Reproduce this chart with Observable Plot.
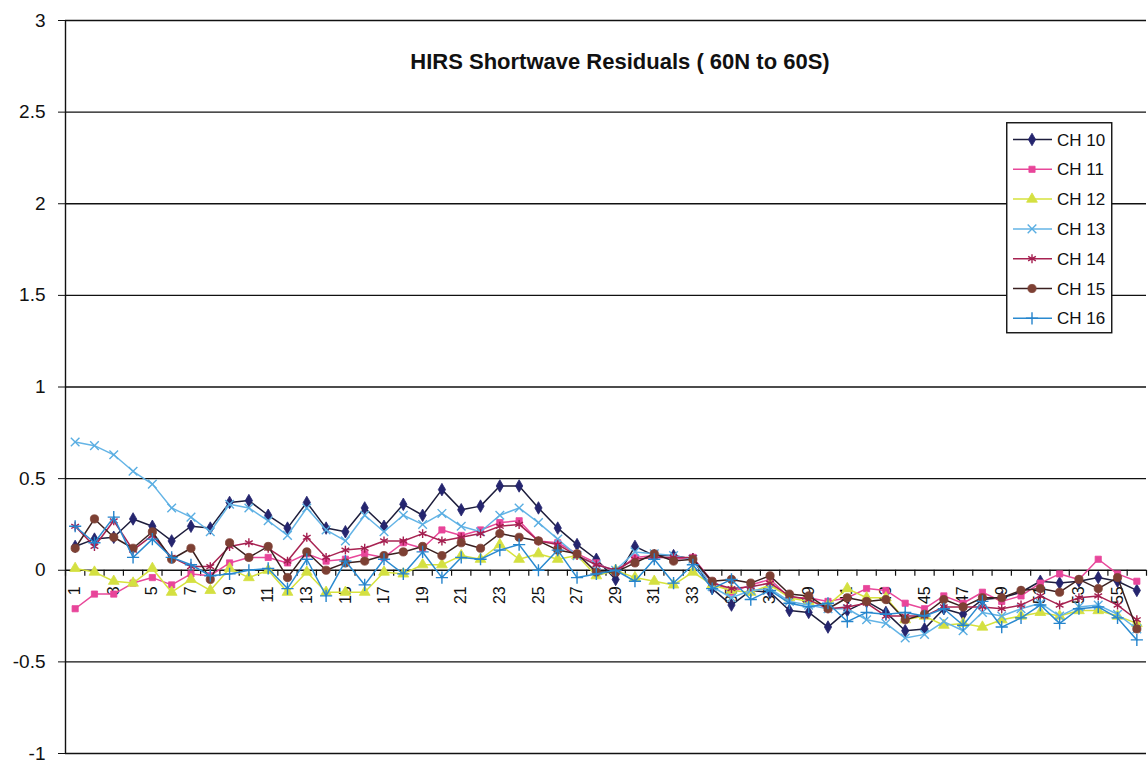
<!DOCTYPE html>
<html><head><meta charset="utf-8">
<script src="https://cdn.jsdelivr.net/npm/d3@7"></script>
<script src="https://cdn.jsdelivr.net/npm/@observablehq/plot@0.6"></script>
<style>
html,body{margin:0;padding:0;background:#fff;}
#wrap{position:relative;width:1148px;height:765px;overflow:hidden;background:#fff;}
</style></head><body><div id="wrap"></div>
<script>
const title = "HIRS Shortwave Residuals ( 60N to 60S)";
const categories = [1,2,3,4,5,6,7,8,9,10,11,12,13,14,15,16,17,18,19,20,21,22,23,24,25,26,27,28,29,30,31,32,33,34,35,36,37,38,39,40,41,42,43,44,45,46,47,48,49,50,51,52,53,54,55,56];
const xTickLabels = [1,3,5,7,9,11,13,15,17,19,21,23,25,27,29,31,33,35,37,39,41,43,45,47,49,51,53,55];
const yTicks = [-1,-0.5,0,0.5,1,1.5,2,2.5,3];
const seriesNames = ["CH 10","CH 11","CH 12","CH 13","CH 14","CH 15","CH 16"];

const ch10 = [0.13,0.17,0.18,0.28,0.24,0.16,0.24,0.23,0.37,0.38, 0.30,0.23,0.37,0.23,0.21,0.34,0.24,0.36,0.30,0.44, 0.33,0.35,0.46,0.46,0.34,0.23,0.14,0.06,-0.05,0.13, 0.08,0.08,0.06,-0.10,-0.19,-0.11,-0.12,-0.22,-0.23,-0.31, -0.22,-0.17,-0.23,-0.33,-0.32,-0.21,-0.24,-0.16,-0.15,-0.12, -0.06,-0.07,-0.06,-0.04,-0.06,-0.11];
const ch11 = [-0.21,-0.13,-0.13,-0.07,-0.04,-0.08,-0.02,-0.03,0.04,0.07, 0.07,0.04,0.09,0.05,0.06,0.09,0.07,0.15,0.12,0.22, 0.19,0.22,0.26,0.27,0.16,0.15,0.09,0.04,-0.01,0.07, 0.08,0.06,0.07,-0.06,-0.12,-0.08,-0.05,-0.15,-0.15,-0.17, -0.15,-0.10,-0.11,-0.18,-0.21,-0.14,-0.18,-0.12,-0.17,-0.14, -0.07,-0.02,-0.05,0.06,-0.02,-0.06];
const ch12 = [0.01,-0.01,-0.06,-0.07,0.01,-0.12,-0.05,-0.11,0.01,-0.04, 0.00,-0.12,-0.01,-0.12,-0.12,-0.12,-0.01,-0.02,0.03,0.03, 0.08,0.06,0.14,0.06,0.09,0.06,0.08,-0.03,0.00,-0.04, -0.06,-0.08,-0.01,-0.08,-0.11,-0.12,-0.08,-0.15,-0.17,-0.19, -0.10,-0.15,-0.15,-0.27,-0.25,-0.30,-0.29,-0.31,-0.27,-0.25, -0.23,-0.25,-0.22,-0.22,-0.25,-0.29];
const ch13 = [0.70,0.68,0.63,0.54,0.47,0.34,0.29,0.21,0.36,0.34, 0.27,0.19,0.34,0.22,0.16,0.30,0.21,0.30,0.25,0.31, 0.24,0.21,0.30,0.34,0.26,0.17,0.08,0.03,0.00,0.10, 0.09,0.08,0.06,-0.09,-0.15,-0.11,-0.10,-0.17,-0.19,-0.21, -0.21,-0.27,-0.29,-0.37,-0.35,-0.28,-0.33,-0.23,-0.25,-0.21, -0.18,-0.25,-0.20,-0.19,-0.24,-0.32];
const ch14 = [0.24,0.13,0.27,0.11,0.19,0.07,0.02,0.02,0.13,0.15, 0.12,0.05,0.18,0.07,0.11,0.12,0.16,0.16,0.20,0.16, 0.18,0.20,0.24,0.25,0.16,0.14,0.08,0.03,0.00,0.06, 0.07,0.07,0.07,-0.07,-0.10,-0.09,-0.07,-0.14,-0.16,-0.21, -0.20,-0.18,-0.25,-0.25,-0.25,-0.20,-0.20,-0.20,-0.21,-0.19, -0.14,-0.19,-0.15,-0.14,-0.19,-0.27];
const ch15 = [0.12,0.28,0.18,0.12,0.21,0.06,0.12,-0.05,0.15,0.07, 0.13,-0.04,0.10,0.00,0.04,0.05,0.08,0.10,0.13,0.08, 0.15,0.12,0.20,0.18,0.16,0.11,0.09,-0.01,-0.01,0.04, 0.09,0.05,0.06,-0.06,-0.05,-0.07,-0.03,-0.13,-0.14,-0.21, -0.15,-0.17,-0.16,-0.27,-0.24,-0.16,-0.20,-0.15,-0.15,-0.11, -0.10,-0.12,-0.05,-0.10,-0.04,-0.32];
const ch16 = [0.24,0.15,0.29,0.07,0.17,0.07,0.03,-0.03,-0.02,0.00, 0.01,-0.10,0.06,-0.14,0.05,-0.08,0.06,-0.02,0.10,-0.04, 0.07,0.06,0.11,0.14,0.00,0.11,-0.04,-0.02,0.00,-0.06, 0.06,-0.07,0.03,-0.10,-0.05,-0.16,-0.11,-0.18,-0.20,-0.18, -0.28,-0.23,-0.24,-0.23,-0.25,-0.21,-0.30,-0.17,-0.31,-0.26, -0.19,-0.29,-0.21,-0.20,-0.26,-0.38];
const seriesValues = [ch10, ch11, ch12, ch13, ch14, ch15, ch16];

const styles = [
  {line:"#1d1d3c", mark:"#25256e", symbol:"diamond", filled:true, r:3.8},
  {line:"#e8489a", mark:"#e8459a", symbol:"square", filled:true, r:3.5},
  {line:"#d6e23c", mark:"#d4e041", symbol:"triangle", filled:true, r:4.0},
  {line:"#64b4e6", mark:"#5aaee2", symbol:"times", filled:false, r:4.0},
  {line:"#a82352", mark:"#a41f50", symbol:"asterisk", filled:false, r:4.2},
  {line:"#3a2020", mark:"#7d4034", symbol:"circle", filled:true, r:4.1},
  {line:"#2a8ad0", mark:"#2584cc", symbol:"plus", filled:false, r:4.0}
];
const symbolMap = {diamond:d3.symbolDiamond, square:d3.symbolSquare, triangle:d3.symbolTriangle, times:d3.symbolTimes, asterisk:d3.symbolAsterisk, circle:d3.symbolCircle, plus:d3.symbolPlus};

const FONT = "Arial, 'Liberation Sans', sans-serif";
const boundaries = categories.map(c => c - 0.5).concat([categories[categories.length-1] + 0.5]);

const marks = [
  Plot.ruleY(yTicks, {stroke:"#111", strokeWidth:1.4}),
  Plot.ruleX([boundaries[0]], {stroke:"#111", strokeWidth:1.4}),
  Plot.ruleX(boundaries, {x: d => d, y1: 0, y2: 0, insetBottom: -6, stroke:"#111", strokeWidth:1.2}),
  Plot.axisY({ticks: yTicks, tickSize: 7, tickPadding: 13, fontSize: 19, tickFormat: d => String(d), stroke:"#111", label: null}),
  Plot.text(xTickLabels, {x: d => d, y: 0, text: d => String(d), rotate: -90, textAnchor: "end", dy: 16, fontSize: 16, fill:"#111"}),
  Plot.text([title], {frameAnchor: "top", text: d => d, dy: 41, dx: 14, lineAnchor: "middle", fontSize: 22, fontWeight: "bold", fill:"#111"})
];
seriesNames.forEach((name, i) => {
  const st = styles[i];
  const rows = seriesValues[i].map((v, j) => ({x: categories[j], y: v}));
  marks.push(Plot.line(rows, {x: "x", y: "y", stroke: st.line, strokeWidth: 1.5}));
  marks.push(Plot.dot(rows, {x: "x", y: "y", symbol: st.symbol, r: st.r,
    fill: st.filled ? st.mark : "none", stroke: st.mark, strokeWidth: st.filled ? 0.8 : 1.4}));
});

const chart = Plot.plot({
  width: 1148, height: 765,
  marginLeft: 65, marginRight: 2, marginTop: 20, marginBottom: 12,
  style: {fontFamily: FONT, background: "white", color: "#111"},
  x: {domain: [0.5, 56.5], axis: null},
  y: {domain: [-1, 3], axis: null},
  marks
});
const wrap = document.getElementById("wrap");
wrap.appendChild(chart);

// legend
const lg = d3.select(wrap).append("svg")
  .attr("width", 107).attr("height", 212)
  .style("position", "absolute").style("left", "1006px").style("top", "122px")
  .style("font-family", FONT);
lg.append("rect").attr("x", 0.75).attr("y", 0.75).attr("width", 105).attr("height", 210)
  .attr("fill", "white").attr("stroke", "#111").attr("stroke-width", 1.4);
seriesNames.forEach((name, i) => {
  const st = styles[i];
  const cy = 17.5 + i * 29.8;
  const g = lg.append("g");
  g.append("line").attr("x1", 7).attr("x2", 46).attr("y1", cy).attr("y2", cy)
    .attr("stroke", st.line).attr("stroke-width", 1.5);
  const sz = Math.PI * st.r * st.r;
  g.append("path").attr("transform", `translate(26,${cy})`)
    .attr("d", d3.symbol().type(symbolMap[st.symbol]).size(sz)())
    .attr("fill", st.filled ? st.mark : "none").attr("stroke", st.mark)
    .attr("stroke-width", st.filled ? 0.8 : 1.4);
  g.append("text").attr("x", 51).attr("y", cy + 6).attr("font-size", 17).attr("fill", "#111").text(name);
});
</script></body></html>
